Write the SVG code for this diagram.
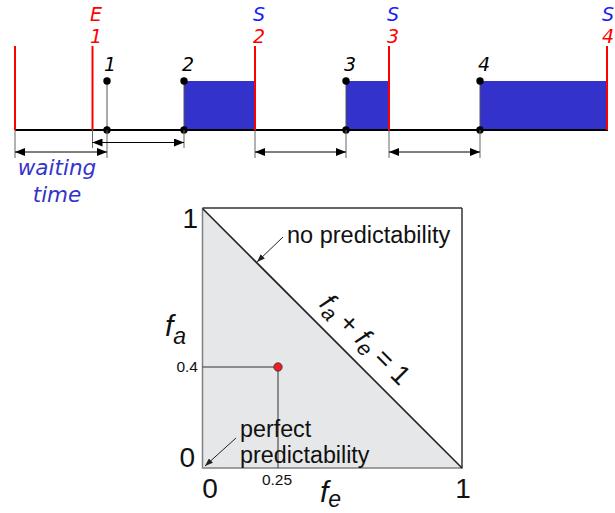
<svg xmlns="http://www.w3.org/2000/svg" width="615" height="513" viewBox="0 0 615 513">
<defs>
<style>
.base{stroke:#000;stroke-width:2;fill:none}
.red{stroke:#ff0000;stroke-width:2;fill:none}
.stem{stroke:#555;stroke-width:1;fill:none}
.tick{stroke:#666;stroke-width:1;fill:none}
.arr{stroke:#000;stroke-width:1;fill:none;marker-start:url(#ah);marker-end:url(#ah)}
.blk{fill:#3333cc;stroke:none}
.dot{fill:#000}
.lab{font-family:"DejaVu Sans",Verdana,sans-serif;font-style:italic;font-size:19px;text-anchor:middle}
.sl{fill:#1a1aff}
.rl{fill:#ff0000}
.kl{fill:#000}
.wt{font-family:"DejaVu Sans",Verdana,sans-serif;font-style:italic;font-size:21.5px;fill:#3333cc;text-anchor:middle}
.ar{font-family:"Liberation Sans",Arial,sans-serif;fill:#111}
.thin{stroke:#222;stroke-width:1;fill:none}
</style>
<marker id="ah" viewBox="0 0 10 8" refX="10" refY="4" markerWidth="10" markerHeight="8" markerUnits="userSpaceOnUse" orient="auto-start-reverse">
<path d="M0,0 L10,4 L0,8 Z" fill="#000"/>
</marker>
<marker id="sa" viewBox="0 0 8 6" refX="8" refY="3" markerWidth="8" markerHeight="6" markerUnits="userSpaceOnUse" orient="auto">
<path d="M0,0 L8,3 L0,6 Z" fill="#222"/>
</marker>
</defs>

<g id="timeline">
<rect class="blk" x="184" y="81" width="71" height="49"/>
<rect class="blk" x="346" y="81" width="43" height="49"/>
<rect class="blk" x="480" y="81" width="127" height="49"/>
<line class="base" x1="15" y1="130" x2="608" y2="130"/>
</g>

<g id="events">
<line class="red" x1="15" y1="46" x2="15" y2="130"/>
<line class="red" x1="92.5" y1="46" x2="92.5" y2="130"/>
<line class="red" x1="255" y1="46" x2="255" y2="130"/>
<line class="red" x1="389" y1="46" x2="389" y2="130"/>
<line class="red" x1="607" y1="46" x2="607" y2="130"/>
<text class="lab rl" x="96" y="21">E</text>
<text class="lab rl" x="96" y="43">1</text>
<text class="lab sl" x="259" y="21">S</text>
<text class="lab rl" x="259" y="43">2</text>
<text class="lab sl" x="393" y="21">S</text>
<text class="lab rl" x="393" y="43">3</text>
<text class="lab sl" x="608" y="21">S</text>
<text class="lab rl" x="608" y="43">4</text>
</g>

<g id="points">
<line class="stem" x1="107" y1="81" x2="107" y2="130"/>
<line class="stem" x1="184" y1="81" x2="184" y2="130"/>
<line class="stem" x1="346" y1="81" x2="346" y2="130"/>
<line class="stem" x1="480" y1="81" x2="480" y2="130"/>
<circle class="dot" cx="107" cy="81" r="3.7"/><circle class="dot" cx="107" cy="130" r="3.7"/>
<circle class="dot" cx="184" cy="81" r="3.7"/><circle class="dot" cx="184" cy="130" r="3.7"/>
<circle class="dot" cx="346" cy="81" r="3.7"/><circle class="dot" cx="346" cy="130" r="3.7"/>
<circle class="dot" cx="480" cy="81" r="3.7"/><circle class="dot" cx="480" cy="130" r="3.7"/>
<text class="lab kl" x="110" y="71" font-size="20">1</text>
<text class="lab kl" x="188" y="71" font-size="20">2</text>
<text class="lab kl" x="350" y="71" font-size="20">3</text>
<text class="lab kl" x="484" y="71" font-size="20">4</text>
</g>

<g id="waiting-label">
<text class="wt" x="57" y="175">waiting</text>
<text class="wt" x="57" y="202">time</text>
</g>

<g id="chart">
<polygon points="202.5,208.5 462,468 202.5,468" fill="#e6e7e8"/>
<line x1="202.5" y1="208" x2="462" y2="208" stroke="#333" stroke-width="1.5"/>
<line x1="462" y1="208" x2="462" y2="468.5" stroke="#333" stroke-width="1.5"/>
<line x1="202.5" y1="208" x2="202.5" y2="468.5" stroke="#808080" stroke-width="1.5"/>
<line x1="202.5" y1="468" x2="462" y2="468" stroke="#808080" stroke-width="1.5"/>
<line x1="202.5" y1="208.5" x2="462" y2="468" stroke="#222" stroke-width="1.6"/>
<line x1="202.5" y1="367" x2="278" y2="367" stroke="#333" stroke-width="1"/>
<line x1="278" y1="367" x2="278" y2="468" stroke="#333" stroke-width="1"/>
<circle cx="278" cy="367" r="4.2" fill="#ee1c24" stroke="#333" stroke-width="0.8"/>
<text class="ar" x="198" y="228" font-size="28" text-anchor="end">1</text>
<text class="ar" x="195" y="467" font-size="28" text-anchor="end">0</text>
<text class="ar" x="210" y="498" font-size="28" text-anchor="middle">0</text>
<text class="ar" x="463" y="498" font-size="28" text-anchor="middle">1</text>
<text class="ar" x="198" y="372" font-size="15.5" text-anchor="end">0.4</text>
<text class="ar" x="277" y="485" font-size="15.5" text-anchor="middle">0.25</text>
<text class="ar" x="165" y="336" font-size="30" font-style="italic">f<tspan font-size="23" dy="8">a</tspan></text>
<text class="ar" x="320" y="502" font-size="30" font-style="italic">f<tspan font-size="23" dy="5">e</tspan></text>
<text class="ar" x="287" y="243" font-size="23.5">no predictability</text>
<text class="ar" x="240" y="437" font-size="23.3">perfect</text>
<text class="ar" x="240" y="463" font-size="23.3">predictability</text>
<text class="ar" x="359" y="346" font-size="27" text-anchor="middle" transform="rotate(45 359 346)"><tspan font-style="italic">f</tspan><tspan font-style="italic" font-size="21" dy="5">a</tspan><tspan dy="-5"> + </tspan><tspan font-style="italic">f</tspan><tspan font-style="italic" font-size="21" dy="5">e</tspan><tspan dy="-5"> = 1</tspan></text>
</g>

<g id="connectors">
<line class="tick" x1="15" y1="130" x2="15" y2="158"/>
<line class="tick" x1="92.5" y1="130" x2="92.5" y2="148"/>
<line class="tick" x1="107" y1="130" x2="107" y2="158"/>
<line class="tick" x1="184" y1="130" x2="184" y2="148"/>
<line class="tick" x1="255" y1="130" x2="255" y2="158"/>
<line class="tick" x1="346" y1="130" x2="346" y2="158"/>
<line class="tick" x1="389" y1="130" x2="389" y2="158"/>
<line class="tick" x1="480" y1="130" x2="480" y2="158"/>
<line class="arr" x1="15" y1="152" x2="107" y2="152"/>
<line class="arr" x1="92.5" y1="142.5" x2="184" y2="142.5"/>
<line class="arr" x1="255" y1="152" x2="346" y2="152"/>
<line class="arr" x1="389" y1="152" x2="480" y2="152"/>
<line class="thin" x1="283" y1="237" x2="257" y2="262" marker-end="url(#sa)"/>
<line class="thin" x1="236" y1="438" x2="205" y2="466" marker-end="url(#sa)"/>
</g>
</svg>
